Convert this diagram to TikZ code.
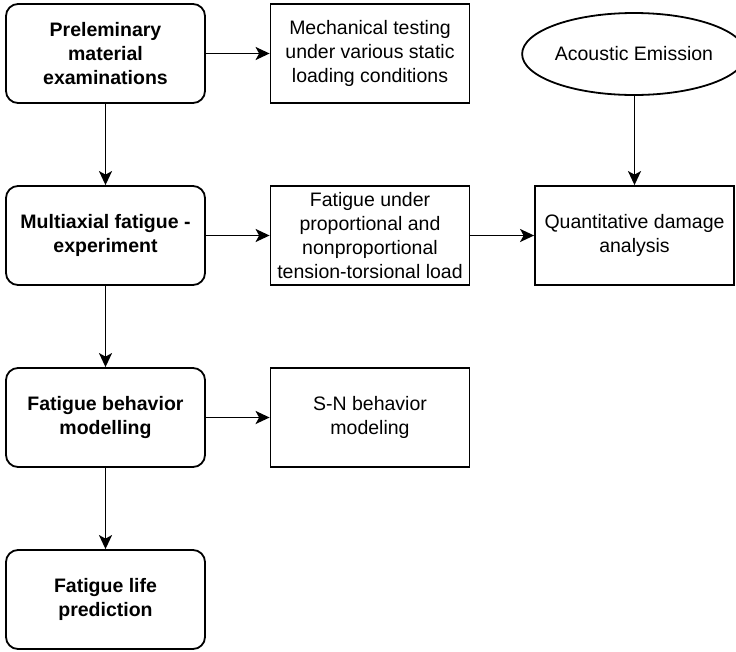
\documentclass[tikz,border=0pt]{standalone}
\usepackage{fontspec}
\setmainfont{Liberation Sans}
\usetikzlibrary{arrows.meta,shapes.geometric}
\begin{document}
\begin{tikzpicture}[x=1pt,y=-1pt,
  base/.style={draw=black,line width=1.8pt,minimum width=199pt,minimum height=99pt,align=center,inner sep=2pt,font=\fontsize{19.5}{23.8}\selectfont},
  mainbox/.style={base,rounded corners=12pt,font=\fontsize{19.5}{23.8}\selectfont\bfseries},
  sidebox/.style={base},
  ellbox/.style={base,ellipse,minimum width=199pt,minimum height=82pt,inner sep=0pt},
  conn/.style={line width=1.8pt,-{Stealth[length=14pt,width=13pt,inset=3.5pt]}}]
\useasboundingbox (0,0) rectangle (736,651);
\node[mainbox] (pre) at (105.5,53.5) {Preleminary\\material\\examinations};
\node[mainbox] (multi) at (105.5,235.5) {Multiaxial fatigue -\\experiment};
\node[mainbox] (behav) at (105.5,417.5) {Fatigue behavior\\modelling};
\node[mainbox] (life) at (105.5,599.5) {Fatigue life\\prediction};
\node[sidebox] (mech) at (370,53.5) {Mechanical testing\\under various static\\loading conditions};
\node[sidebox] (fat) at (370,235.5) {Fatigue under\\proportional and\\nonproportional\\tension-torsional load};
\node[sidebox] (sn) at (370,417.5) {S-N behavior\\modeling};
\node[ellbox] (ae) at (634,54) {Acoustic Emission};
\node[sidebox] (quant) at (634.5,235.5) {Quantitative damage\\analysis};
\draw[conn] (pre) -- (mech);
\draw[conn] (multi) -- (fat);
\draw[conn] (fat) -- (quant);
\draw[conn] (behav) -- (sn);
\draw[conn] (pre) -- (multi);
\draw[conn] (multi) -- (behav);
\draw[conn] (behav) -- (life);
\draw[conn] (ae.south -| quant.north) -- (quant.north);
\end{tikzpicture}
\end{document}
